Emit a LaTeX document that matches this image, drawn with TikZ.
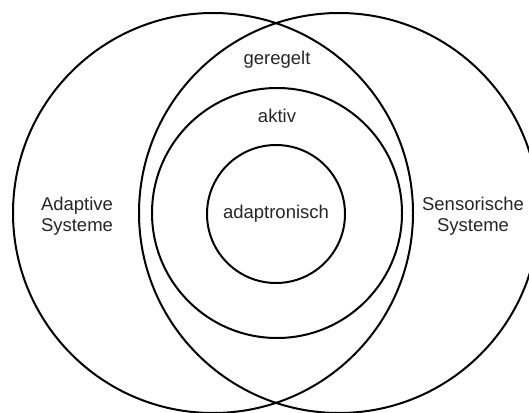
\documentclass[tikz,border=0pt]{standalone}
\usepackage{fontspec}
\setmainfont{Liberation Sans}
\usetikzlibrary{positioning}

\tikzset{
    ring/.style={draw, circle, line width=2pt, inner sep=0pt},
    tag/.style={text=black!85, font=\fontsize{18.5}{21.5}\selectfont, align=center, inner sep=0pt}
}

\begin{document}
\begin{tikzpicture}[x=1pt, y=-1pt]
    \useasboundingbox (0,0) rectangle (529,412);
    \clip (0,0) rectangle (529,412);
    \node[ring, minimum size=400pt] (adaptiv) at (213,213) {};
    \node[ring, minimum size=400pt] (sensor) at (339,213) {};
    \node[ring, minimum size=250pt] (aktiv) at (277,213) {};
    \node[ring, minimum size=138pt] (kern) at (276,214) {};
    \node[tag] (Tadaptiv) at (77,216) {Adaptive\\Systeme};
    \node[tag] (Tsensor) at (473,216) {Sensorische\\Systeme};
    \node[tag] (Tgeregelt) at (277,60) {geregelt};
    \node[tag] (Taktiv) at (277,116) {aktiv};
    \node[tag] (Tkern) at (kern) {adaptronisch};
\end{tikzpicture}
\end{document}
